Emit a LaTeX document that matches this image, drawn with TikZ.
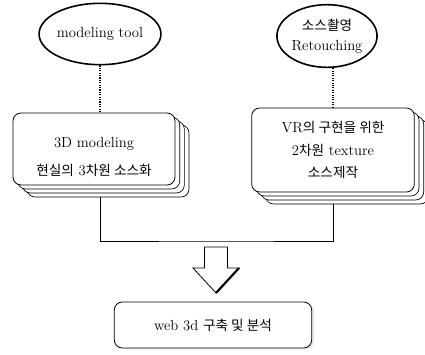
\documentclass[tikz,border=0pt]{standalone}
\usepackage{fontspec}
\newfontfamily\kr[Scale=0.93]{Noto Sans CJK KR}
\usetikzlibrary{shapes.geometric,shadows}

\tikzset{
  tondo/.style={ellipse, draw, line width=1.2pt, align=center, inner sep=0pt},
  foglio/.style={fill=white, draw=black, line width=0.5pt},
  carta/.style={rectangle, rounded corners=6pt, draw, line width=0.6pt, fill=white, align=center,
    copy shadow={shadow xshift=10.5pt, shadow yshift=-9pt, foglio},
    copy shadow={shadow xshift=7pt, shadow yshift=-6pt, foglio},
    copy shadow={shadow xshift=3.5pt, shadow yshift=-3pt, foglio}},
  scatola/.style={rectangle, rounded corners=6pt, draw, line width=0.6pt, fill=white,
    copy shadow={shadow xshift=2pt, shadow yshift=-1pt, fill=gray!15, draw=none}},
}

\begin{document}
\begin{tikzpicture}[x=0.75pt, y=-0.75pt, font=\fontsize{11}{13}\selectfont]
    \useasboundingbox (0,0) rectangle (425,354);

     % Strumenti in alto
    \node[tondo, minimum width=78pt, minimum height=46pt] (tool) at (100,34) {modeling tool};
    \node[tondo, minimum width=69pt, minimum height=47pt] (shoot) at (327,36) {{\kr 소스촬영}\\[2pt]Retouching};

     % Fogli impilati
    \node[carta, minimum width=121.5pt, minimum height=54pt] (model) at (94,149)
        {\rule{0pt}{19pt}3D modeling\\[8pt]{\kr 현실의} 3{\kr 차원 소스화}};
    \node[carta, minimum width=122pt, minimum height=63pt] (texture) at (333,150)
        {VR{\kr 의 구현을 위한}\\[4pt]2{\kr 차원} texture\\[4pt]{\kr 소스제작}};

     % Risultato
    \node[scatola, minimum width=148pt, minimum height=34.5pt] (web) at (213,325) {web 3d {\kr 구축 및 분석}};

     % Collegamenti
    \draw[densely dotted, line width=0.8pt] (tool.south) -- (tool.south |- model.north);
    \draw[densely dotted, line width=0.8pt] (texture.north |- shoot.south) -- (texture.north);
    \coordinate (join) at (216,241);
    \draw[line width=0.6pt] ([yshift=-9pt]tool.south |- model.south) |- (join) -| ([yshift=-9pt]texture.south);

     % Freccia grande
    \draw[shift={(join)}, line width=0.6pt, fill=white] (-11.5,6) -- (-11.5,27) -- (-23,27) -- (0,52)
        -- (23,27) -- (11.5,27) -- (11.5,6) -- cycle;
    \draw[shift={(join)}, line width=1.6pt] (23,27) -- (0,52);
\end{tikzpicture}
\end{document}
